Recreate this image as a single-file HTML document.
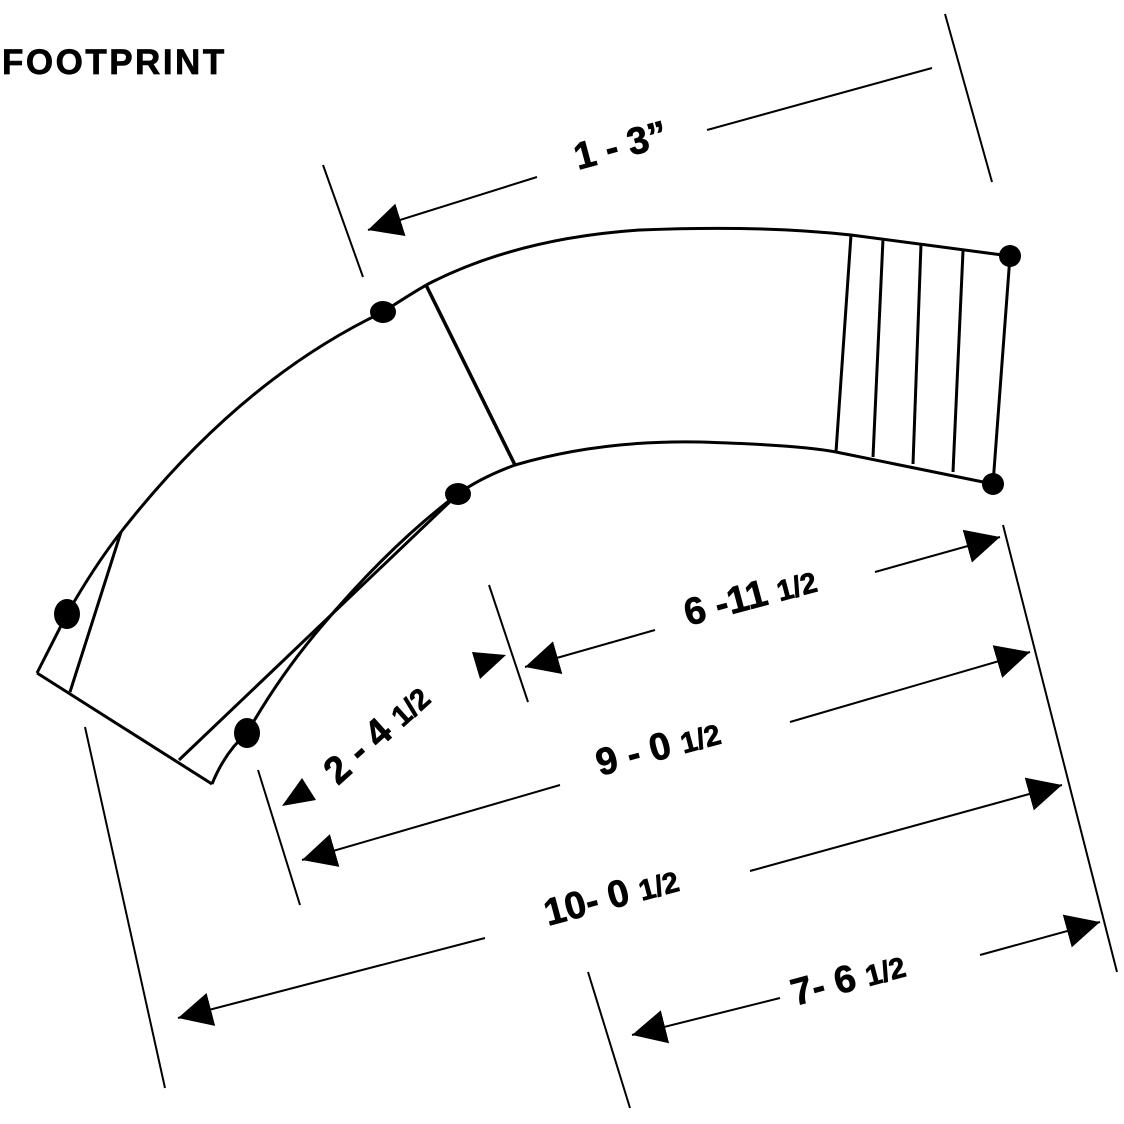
<!DOCTYPE html>
<html><head><meta charset="utf-8"><style>
html,body{margin:0;padding:0;background:#fff;width:1124px;height:1124px;overflow:hidden}
svg{display:block}
text{font-family:"Liberation Sans",Arial,sans-serif;font-weight:bold;fill:#000;stroke:#000;stroke-width:0.7}
</style></head><body>
<svg width="1124" height="1124" viewBox="0 0 1124 1124" xmlns="http://www.w3.org/2000/svg">
<defs>
<marker id="a" viewBox="0 0 10 10" refX="10" refY="5" markerWidth="34" markerHeight="34" markerUnits="userSpaceOnUse" orient="auto">
<path d="M0,0 L10,5 L0,10 z" fill="#000"/>
</marker>
</defs>
<text x="2" y="74" font-size="35" style="letter-spacing:2.5px">FOOTPRINT</text>
<g fill="none" stroke="#000" stroke-width="3">
<path d="M37,673 L67,614 Q95,565 121,532 Q240,380 383,312 Q420,288 432,282 Q520,238 640,230 Q760,225 851,235 L1010,256"/>
<path d="M212,784 Q225,752 247,733 Q280,675 321,627 Q390,545 458,494 Q480,478 515,465 Q600,440 700,442 Q800,445 836,452 L993,484"/>
<path d="M179,760 L458,494"/>
<path d="M37,673 L212,784"/>
<path d="M121,532 L70,692"/>
<path d="M1010,256 L993,484"/>
<path d="M426,285 L515,465" stroke-width="3.5"/>
<path d="M851,235 L836,452 M883,239 L873,457 M921,244 L913,464 M963,251 L953,472"/>
</g>
<g fill="#000">
<ellipse cx="383" cy="312" rx="13" ry="11"/>
<ellipse cx="458" cy="494" rx="13" ry="11"/>
<ellipse cx="67" cy="614" rx="13" ry="15"/>
<ellipse cx="247" cy="733" rx="13" ry="15"/>
<ellipse cx="1010" cy="256" rx="11" ry="11"/>
<ellipse cx="993" cy="484" rx="11" ry="11"/>
</g>
<g fill="none" stroke="#000" stroke-width="2">
<path d="M323,165 L363,277"/>
<path d="M945,14 L992,182"/>
<path d="M489,585 L528,702"/>
<path d="M258,770 L300,905"/>
<path d="M85,727 L165,1088"/>
<path d="M1003,525 L1117,972"/>
<path d="M588,972 L630,1108"/>
<path d="M932,68 L707,130"/>
<path d="M537,177 L368,230" marker-end="url(#a)"/>
<path d="M655,630 L525,667" marker-end="url(#a)"/>
<path d="M875,572 L1000,537" marker-end="url(#a)"/>
<path d="M790,722 L1030,652" marker-end="url(#a)"/>
<path d="M560,785 L302,860" marker-end="url(#a)"/>
<path d="M485,938 L178,1018" marker-end="url(#a)"/>
<path d="M750,871 L1062,785" marker-end="url(#a)"/>
<path d="M780,998 L632,1035" marker-end="url(#a)"/>
<path d="M980,955 L1100,922" marker-end="url(#a)"/>
</g>
<g fill="#000">
<path d="M472,652 L506,655 L480,679 z"/>
<path d="M282,806 L302,778 L316,800 z"/>
</g>
<g font-size="38">
<text transform="translate(578,170) rotate(-15)">1 - 3”</text>
<text transform="translate(688,626) rotate(-15)">6 -11 <tspan font-size="29">1/2</tspan></text>
<text transform="translate(338,786) rotate(-42)">2 - 4 <tspan font-size="29">1/2</tspan></text>
<text transform="translate(600,776) rotate(-15)">9 - 0 <tspan font-size="29">1/2</tspan></text>
<text transform="translate(548,926) rotate(-15)">10- 0 <tspan font-size="29">1/2</tspan></text>
<text transform="translate(795,1006) rotate(-15)">7- 6 <tspan font-size="29">1/2</tspan></text>
</g>
</svg>
</body></html>
